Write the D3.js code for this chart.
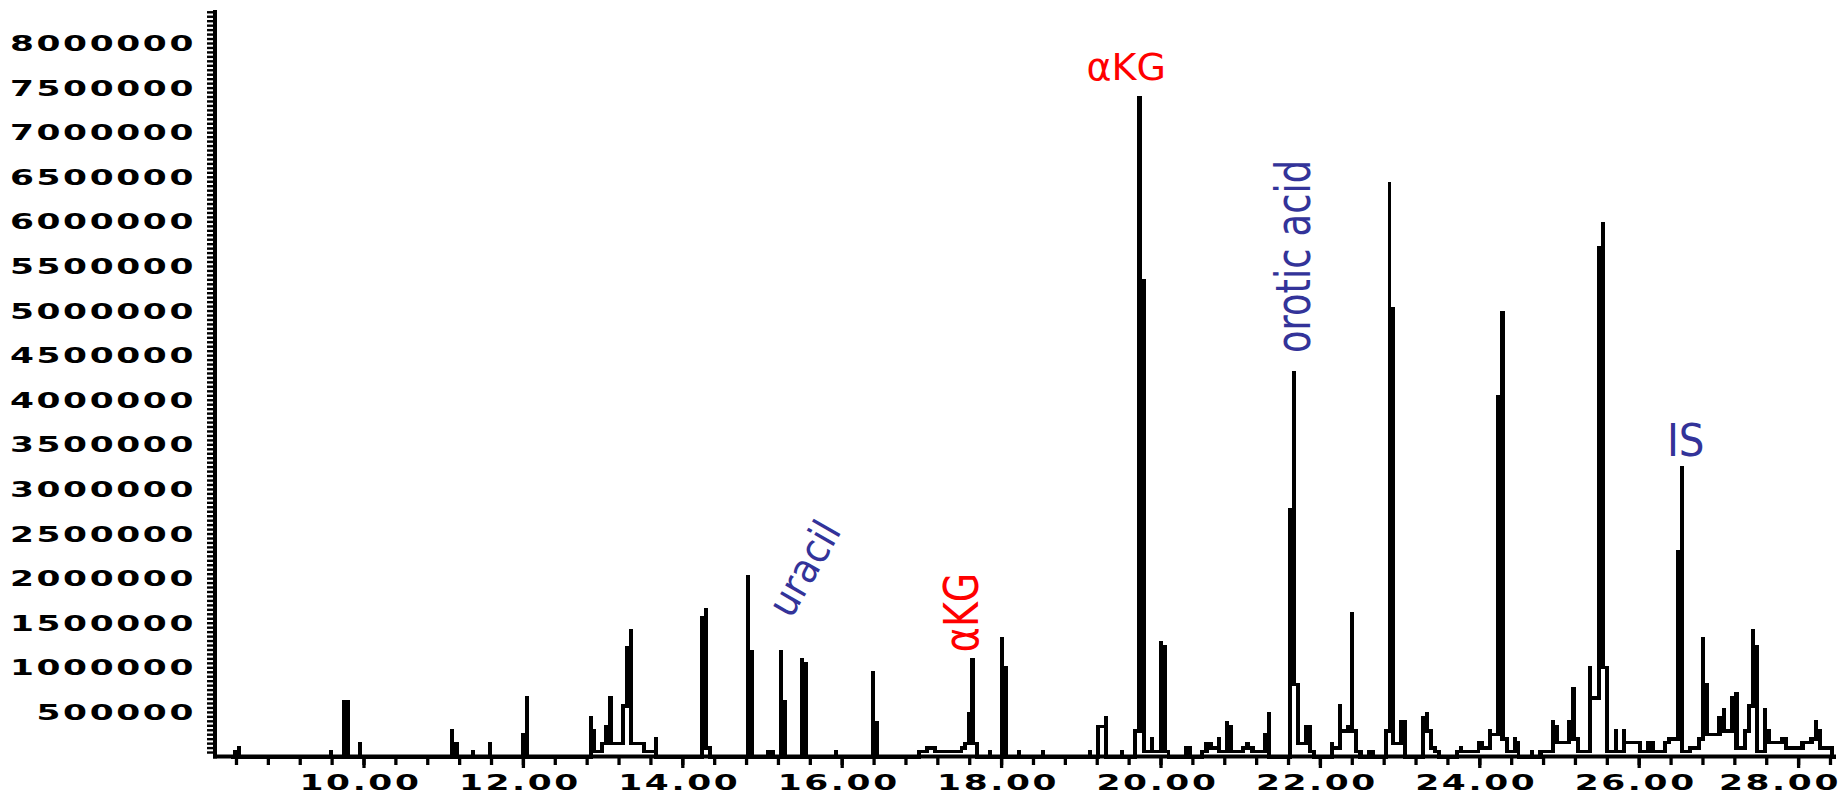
<!DOCTYPE html>
<html>
<head>
<meta charset="utf-8">
<script src="https://cdn.jsdelivr.net/npm/d3@7"></script>
<style>
  html, body { margin: 0; padding: 0; background: #fff; }
  #chart { width: 1843px; height: 795px; }
  .tick-lbl { font-family: "DejaVu Sans", sans-serif; font-size: 21px; font-weight: bold; fill: #000; }
  .anno { font-family: "DejaVu Sans", sans-serif; }
</style>
</head>
<body>
<div id="chart"></div>
<script>
// Chromatogram trace: [retention time (min), abundance (millions)], one column per sample
var trace = [
  [8.34, 0], [8.39, 0.06], [8.44, 0.10], [8.49, 0],
  [9.54, 0], [9.59, 0.06], [9.64, 0],
  [9.71, 0], [9.76, 0.62], [9.81, 0.62], [9.86, 0], [9.91, 0], [9.96, 0.15], [10.01, 0],
  [11.06, 0], [11.11, 0.29], [11.17, 0.15], [11.22, 0],
  [11.33, 0], [11.38, 0.06], [11.43, 0],
  [11.54, 0], [11.59, 0.15], [11.64, 0],
  [11.95, 0], [12.00, 0.25], [12.05, 0.66], [12.10, 0],
  [12.80, 0], [12.85, 0.44], [12.90, 0.29], [12.94, 0.06], [12.99, 0.15], [13.04, 0.34],
  [13.10, 0.66], [13.16, 0.15], [13.21, 0.15], [13.26, 0.57], [13.31, 1.22], [13.36, 1.41],
  [13.41, 0.15], [13.47, 0.15], [13.52, 0.15], [13.57, 0.06], [13.62, 0.06], [13.67, 0.20], [13.72, 0],
  [14.20, 0], [14.25, 1.56], [14.30, 1.65], [14.35, 0.10], [14.40, 0],
  [14.77, 0], [14.82, 2.02], [14.87, 1.18], [14.92, 0],
  [15.03, 0], [15.08, 0.06], [15.14, 0.06], [15.19, 0], [15.24, 1.18], [15.29, 0.62], [15.34, 0],
  [15.45, 0], [15.50, 1.09], [15.55, 1.04], [15.60, 0],
  [15.88, 0], [15.93, 0.06], [15.98, 0],
  [16.34, 0], [16.39, 0.94], [16.44, 0.38], [16.49, 0],
  [16.92, 0], [16.97, 0.06], [17.02, 0.06], [17.07, 0.10], [17.12, 0.10], [17.17, 0.10],
  [17.22, 0.06], [17.27, 0.06], [17.32, 0.06], [17.37, 0.06], [17.42, 0.06], [17.46, 0.06],
  [17.50, 0.10], [17.55, 0.15], [17.59, 0.48], [17.64, 1.09], [17.70, 0.15], [17.75, 0],
  [17.81, 0], [17.86, 0.06], [17.91, 0],
  [17.96, 0], [18.01, 1.32], [18.06, 1.00], [18.11, 0],
  [18.17, 0], [18.22, 0.06], [18.27, 0],
  [18.48, 0], [18.53, 0.06], [18.58, 0],
  [19.06, 0], [19.11, 0.06], [19.16, 0], [19.22, 0.34], [19.27, 0.34], [19.32, 0.44], [19.37, 0],
  [19.47, 0], [19.52, 0.06], [19.57, 0],
  [19.63, 0], [19.68, 0.29], [19.74, 7.39], [19.79, 5.34], [19.84, 0.06], [19.89, 0.20],
  [19.94, 0.06], [20.01, 1.28], [20.06, 1.23], [20.10, 0.06], [20.15, 0],
  [20.27, 0], [20.32, 0.10], [20.37, 0.10], [20.42, 0],
  [20.47, 0], [20.52, 0.06], [20.58, 0.15], [20.63, 0.15], [20.68, 0.10], [20.73, 0.20],
  [20.78, 0.06], [20.83, 0.38], [20.89, 0.34], [20.94, 0.06], [20.99, 0.06], [21.04, 0.10],
  [21.09, 0.15], [21.15, 0.10], [21.21, 0.06], [21.26, 0.06], [21.31, 0.25], [21.36, 0.48], [21.41, 0],
  [21.58, 0], [21.63, 2.77], [21.67, 4.30], [21.72, 0.81], [21.77, 0.15], [21.83, 0.34],
  [21.88, 0.34], [21.93, 0.06], [21.98, 0],
  [22.10, 0], [22.15, 0.15], [22.20, 0.10], [22.25, 0.57], [22.30, 0.29], [22.35, 0.34],
  [22.40, 1.60], [22.45, 0.29], [22.51, 0.06], [22.56, 0], [22.61, 0.06], [22.67, 0.06], [22.72, 0],
  [22.78, 0], [22.83, 0.29], [22.87, 6.42], [22.92, 5.02], [22.97, 0.15], [23.02, 0.39],
  [23.07, 0.39], [23.12, 0],
  [23.24, 0], [23.29, 0.44], [23.34, 0.48], [23.39, 0.29], [23.44, 0.10], [23.49, 0.06], [23.54, 0],
  [23.67, 0], [23.72, 0.06], [23.77, 0.10], [23.83, 0.06], [23.88, 0.06], [23.94, 0.06],
  [23.99, 0.16], [24.04, 0.16], [24.08, 0.10], [24.14, 0.29], [24.19, 0.25], [24.24, 4.04],
  [24.29, 4.98], [24.35, 0.20], [24.40, 0.06], [24.45, 0.20], [24.49, 0.16], [24.54, 0],
  [24.61, 0], [24.66, 0.06], [24.71, 0], [24.77, 0.06], [24.82, 0.06], [24.88, 0.06],
  [24.93, 0.39], [24.98, 0.34], [25.03, 0.16], [25.08, 0.16], [25.13, 0.39], [25.18, 0.76],
  [25.24, 0.20], [25.29, 0.06], [25.34, 0.06], [25.39, 1.00], [25.45, 0.66], [25.50, 5.71],
  [25.55, 5.98], [25.60, 1.00], [25.66, 0.06], [25.71, 0.29], [25.76, 0.06], [25.81, 0.29],
  [25.87, 0.16], [25.92, 0.16], [25.97, 0.16], [26.02, 0.16], [26.07, 0.06], [26.12, 0.16],
  [26.18, 0.16], [26.23, 0.06], [26.28, 0.06], [26.33, 0.16], [26.38, 0.20], [26.44, 0.20],
  [26.49, 2.30], [26.54, 3.24], [26.59, 0.06], [26.65, 0.10], [26.70, 0.10], [26.76, 0.20],
  [26.81, 1.32], [26.86, 0.81], [26.91, 0.25], [26.96, 0.25], [27.01, 0.44], [27.07, 0.53],
  [27.12, 0.29], [27.17, 0.66], [27.23, 0.71], [27.28, 0.10], [27.33, 0.29], [27.38, 0.57],
  [27.43, 1.41], [27.49, 1.23], [27.54, 0.06], [27.59, 0.53], [27.64, 0.29], [27.69, 0.16],
  [27.75, 0.16], [27.80, 0.20], [27.85, 0.20], [27.89, 0.10], [27.94, 0.10], [28.00, 0.10],
  [28.06, 0.16], [28.11, 0.16], [28.17, 0.20], [28.22, 0.39], [28.27, 0.29], [28.32, 0.10],
  [28.37, 0.10], [28.42, 0.10], [28.47, 0]
];

// Axis labels
var yTicks = [500000, 1000000, 1500000, 2000000, 2500000, 3000000, 3500000, 4000000,
  4500000, 5000000, 5500000, 6000000, 6500000, 7000000, 7500000, 8000000];
var xTicks = [10, 12, 14, 16, 18, 20, 22, 24, 26, 28];

// Peak annotations, anchored in data space (rt in min, abundance in millions)
var annoText = ["\u03b1KG", "uracil", "\u03b1KG", "orotic acid", "IS"];
var annoRt = [17.71, 15.53, 19.57, 21.88, 26.59];
var annoAbund = [1.615, 2.11, 7.585, 5.607, 3.37];

var width = 1843, height = 795;
var digitStretch = 1.64; // tick digits are drawn wide and squat

var svg = d3
  .select("#chart")
  .append("svg")
  .attr("width", width)
  .attr("height", height);

var xScale = d3.scaleLinear().domain([10, 28]).range([363.5, 1798.1]);
var yScale = d3.scaleLinear().domain([0, 8000000]).range([756.5, 43]);

// minor tick positions: every 0.4 min, every 50000 counts
var xMinor = d3.range(21, 72).map(function(i) { return +(i * 0.4).toFixed(1); });
var yMinor = d3.range(1, 168).map(function(i) { return i * 50000; });

// Trace: each sample is a column running from its lowest neighbour up to its value
var pts = trace.map(function(d, i) {
  var prev = i > 0 ? trace[i - 1][1] : 0;
  var next = i < trace.length - 1 ? trace[i + 1][1] : 0;
  return { rt: d[0], top: d[1], floor: Math.min(prev, d[1], next) };
});

var area = d3
  .area()
  .curve(d3.curveStep)
  .x(function(d) { return xScale(d.rt); })
  .y1(function(d) { return yScale(d.top * 1e6) - 1.5; })
  .y0(function(d) { return yScale(d.floor * 1e6) + 2; });

svg
  .append("path")
  .datum(pts)
  .attr("d", area)
  .attr("fill", "#000")
  .attr("shape-rendering", "crispEdges");

// y axis comb
svg
  .append("g")
  .attr("transform", "translate(213,0)")
  .call(d3.axisLeft(yScale).tickValues(yMinor).tickSize(6).tickFormat(""))
  .call(function(g) { g.select(".domain").remove(); })
  .selectAll("line")
  .attr("stroke", "#000")
  .attr("stroke-width", 2.4);

// x axis ticks, minor then major
svg
  .append("g")
  .attr("transform", "translate(0,758)")
  .call(d3.axisBottom(xScale).tickValues(xMinor).tickSize(7).tickFormat(""))
  .call(function(g) { g.select(".domain").remove(); })
  .selectAll("line")
  .attr("stroke", "#000")
  .attr("stroke-width", 3.3);

svg
  .append("g")
  .attr("transform", "translate(0,758)")
  .call(d3.axisBottom(xScale).tickValues(xTicks).tickSize(10).tickFormat(""))
  .call(function(g) { g.select(".domain").remove(); })
  .selectAll("line")
  .attr("stroke", "#000")
  .attr("stroke-width", 3.3);

// axis lines
svg.append("line")
  .attr("x1", 215).attr("x2", 215)
  .attr("y1", 10).attr("y2", 758.5)
  .attr("stroke", "#000").attr("stroke-width", 4);

svg.append("line")
  .attr("x1", 213).attr("x2", 1836)
  .attr("y1", yScale(0)).attr("y2", yScale(0))
  .attr("stroke", "#000").attr("stroke-width", 4);

// tick labels
svg
  .append("g")
  .selectAll("text")
  .data(yTicks)
  .join("text")
  .attr("class", "tick-lbl")
  .attr("transform", function(d) {
    return "translate(196," + (yScale(d) + 8) + ") scale(" + digitStretch + ",1)";
  })
  .attr("text-anchor", "end")
  .style("letter-spacing", "1.6px")
  .text(function(d) { return String(d); });

svg
  .append("g")
  .selectAll("text")
  .data(xTicks)
  .join("text")
  .attr("class", "tick-lbl")
  .attr("text-anchor", "middle")
  .style("letter-spacing", "1.6px")
  .text(function(d) { return d.toFixed(2); })
  .each(function(d) {
    // keep the last label inside the page
    var half = this.getComputedTextLength() * digitStretch / 2;
    var cx = Math.min(xScale(d) - 3, width - 2 - half);
    d3.select(this).attr("transform", "translate(" + cx + ",790) scale(" + digitStretch + ",1)");
  });

// annotations
var red = "#ff0000", blue = "#333399";
var annoStyle = [
  { color: red, size: 38, rotate: -90, sx: 1, sy: 1.26, dy: "0em" },
  { color: blue, size: 37, rotate: -60, sx: 1, sy: 1.1, dy: "0.35em" },
  { color: red, size: 38, rotate: 0, sx: 1, sy: 1, dy: "0em" },
  { color: blue, size: 37, rotate: -90, sx: 1, sy: 1.3, dy: "0em" },
  { color: blue, size: 45, rotate: 0, sx: 0.9, sy: 1, dy: "0em" }
];

svg
  .append("g")
  .selectAll("text")
  .data(annoText)
  .join("text")
  .attr("class", "anno")
  .attr("transform", function(d, i) {
    var s = annoStyle[i];
    return "translate(" + xScale(annoRt[i]) + "," + yScale(annoAbund[i] * 1e6) + ")" +
      " rotate(" + s.rotate + ") scale(" + s.sx + "," + s.sy + ")";
  })
  .attr("text-anchor", "middle")
  .attr("dy", function(d, i) { return annoStyle[i].dy; })
  .style("font-size", function(d, i) { return annoStyle[i].size + "px"; })
  .attr("fill", function(d, i) { return annoStyle[i].color; })
  .text(function(d) { return d; });
</script>
</body>
</html>
